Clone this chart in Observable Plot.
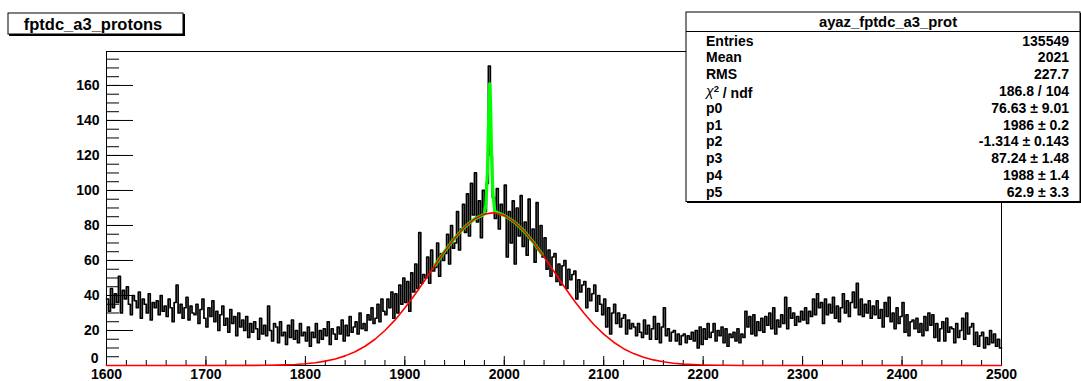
<!DOCTYPE html>
<html>
<head>
<meta charset="utf-8">
<script src="https://cdn.jsdelivr.net/npm/d3@7"></script>
<script src="https://cdn.jsdelivr.net/npm/@observablehq/plot@0.6"></script>
<style>
  html, body { margin: 0; padding: 0; background: #fff; }
  #chart { width: 1081px; height: 381px; overflow: hidden; }
</style>
</head>
<body>
<div id="chart"></div>
<script>
// ---------- data ----------
const histTitle = "fptdc_a3_protons";
const statsTitle = "ayaz_fptdc_a3_prot";
const statNames = ["Entries", "Mean", "RMS", "CHI2", "p0", "p1", "p2", "p3", "p4", "p5"];
const statValues = ["135549", "2021", "227.7", "186.8 / 104", "76.63 \u00b1 9.01", "1986 \u00b1 0.2",
  "-1.314 \u00b1 0.143", "87.24 \u00b1 1.48", "1988 \u00b1 1.4", "62.9 \u00b1 3.3"];

const binStart = 1600;
const binWidth = 2;
const counts = [
  38,31,44,33,41, 36,51,30,43,38, 45,35,29,40,37, 33,42,27,38,35, 30,41,26,36,33,
  37,29,40,31,34, 28,38,33,25,36, 46,30,35,27,33, 39,26,34,30,29, 35,24,32,38,27,
  22,33,28,37,25, 31,20,29,34,23, 27,19,32,24,28, 17,30,22,26,20, 28,16,24,19,25,
  21,15,27,18,23, 17,34,20,14,24, 22,13,25,17,19, 12,23,16,26,15, 20,13,24,17,19,
  14,22,11,19,16, 24,13,20,15,21, 17,25,12,21,18, 15,22,18,26,14, 23,17,28,19,22,
  25,18,30,21,24, 20,29,26,33,24, 27,35,25,38,31, 29,38,33,42,27, 41,30,46,35,50,
  36,48,31,53,42, 58,44,76,47,52, 50,62,47,66,54, 56,70,51,64,60, 64,75,58,80,67,
  70,88,66,78,92, 76,98,74,104,86, 110,82,94,73,100, 88,104,171,120,96, 84,101,78,92,86,
  103,62,88,70,94, 58,90,74,97,68, 82,63,95,72,78, 59,93,66,80,62, 73,55,66,51,62,
  64,48,58,46,57, 60,44,55,49,52, 54,38,49,42,46, 48,33,44,37,41, 46,31,40,35,29,
  38,22,33,18,30, 35,24,30,22,27, 29,18,26,21,24, 22,17,24,19,16, 26,18,23,15,21,
  28,15,24,13,22, 33,17,21,14,19, 20,14,18,12,17, 18,13,17,15,19, 14,20,10,22,12,
  21,15,24,16,19, 24,14,20,17,22, 13,21,11,18,16, 19,14,21,13,18, 16,31,22,28,18,
  29,17,25,20,27, 19,28,23,30,21, 33,18,26,22,29, 24,39,21,33,27, 30,23,28,25,31,
  26,33,24,31,28, 38,29,41,33,36, 24,38,29,35,30, 39,27,34,25,33, 41,30,37,28,36,
  42,33,47,29,38, 28,35,30,37,27, 34,29,37,27,32, 22,36,28,39,25, 30,21,33,24,28,
  36,19,29,17,25, 26,21,27,19,24, 17,28,20,30,23, 29,16,24,14,21, 25,14,27,19,22,
  21,13,24,16,20, 27,15,30,18,22, 24,12,19,11,17, 19,10,16,12,20, 13,18,11,15,10
];

// red fit curve (gaussian component)
const redX = [1600, 1700, 1750, 1760, 1770, 1780, 1790, 1800, 1810, 1820, 1830, 1840, 1850, 1860, 1870,
  1880, 1890, 1900, 1910, 1920, 1930, 1940, 1950, 1960, 1970, 1980, 1988, 1990, 2000, 2010, 2020,
  2030, 2040, 2050, 2060, 2070, 2080, 2090, 2100, 2110, 2120, 2130, 2140, 2150, 2160, 2170, 2180,
  2190, 2200, 2220, 2240, 2300, 2500];
const redY = [0, 0, 0.07, 0.12, 0.22, 0.37, 0.61, 1.0, 1.6, 2.5, 3.7, 5.5, 7.9, 11.0, 15.0,
  20.0, 25.9, 32.8, 40.4, 48.6, 57.0, 65.2, 72.7, 79.0, 83.7, 86.5, 87.2, 87.2, 85.7, 82.1, 76.7,
  69.8, 62.0, 53.7, 45.3, 37.3, 30.0, 23.4, 17.9, 13.3, 9.6, 6.8, 4.7, 3.2, 2.1, 1.3, 0.8,
  0.5, 0.3, 0.1, 0.03, 0, 0];

// green total fit over fit range
const greenX = [1930, 1940, 1950, 1960, 1970, 1978, 1980, 1981.5, 1983, 1984.3, 1985.3, 1986.2, 1987.2, 1988.6, 1990.5, 2000, 2010, 2020, 2030, 2038];
const greenY = [57.0, 65.2, 72.7, 79.0, 83.7, 85.8, 86.5, 92, 110, 140, 161, 150, 120, 98, 88, 85.7, 82.1, 76.7, 69.8, 63.6];

const xMajor = [1600, 1700, 1800, 1900, 2000, 2100, 2200, 2300, 2400, 2500];
const xMinor = d3.range(1600, 2501, 20);
const yMajor = [0, 20, 40, 60, 80, 100, 120, 140, 160];
const yMinor = d3.range(0, 179, 5);

// ---------- build ----------
const hist = counts.map((v, i) => ({x: binStart + i * binWidth, y: v}));
hist.push({x: binStart + counts.length * binWidth, y: counts[counts.length - 1]});
const red = redX.map((x, i) => ({x, y: redY[i]}));
const green = greenX.map((x, i) => ({x, y: greenY[i]}));

const W = 1081, H = 381, mL = 106, mR = 80, mT = 51, mB = 16;
const innerW = W - mL - mR, innerH = H - mT - mB;
const font = "'Liberation Sans', Arial, Helvetica, sans-serif";

const svg = Plot.plot({
  width: W, height: H,
  marginLeft: mL, marginRight: mR, marginTop: mT, marginBottom: mB,
  x: {domain: [1600, 2500], label: null},
  y: {domain: [0, 179.4], label: null},
  style: {fontFamily: font, fontSize: "13.5px", fontWeight: "bold", color: "black", background: "white", overflow: "visible"},
  marks: [
    Plot.ruleY(yMinor, {insetRight: innerW - 13, stroke: "black", strokeWidth: 1}),
    Plot.ruleY(yMajor, {insetRight: innerW - 27, stroke: "black", strokeWidth: 1}),
    Plot.ruleX(xMinor, {insetTop: innerH - 5, stroke: "black", strokeWidth: 1}),
    Plot.ruleX(xMajor, {insetTop: innerH - 9, stroke: "black", strokeWidth: 1}),
    Plot.line(hist, {x: "x", y: "y", curve: "step-after", stroke: "black", strokeWidth: 1.7}),
    Plot.frame({stroke: "black", strokeWidth: 1}),
    Plot.line(green, {x: "x", y: "y", stroke: "#00ff00", strokeWidth: 3.2}),
    Plot.line(red, {x: "x", y: "y", stroke: "#ff0000", strokeWidth: 1.6}),
    Plot.axisY({ticks: yMajor.filter(d => d > 0), tickSize: 0, tickPadding: 7, fontSize: 14, tickFormat: d => String(d), label: null}),
    Plot.axisY({ticks: [0], tickSize: 0, tickPadding: 8, dy: -7, fontSize: 14, tickFormat: d => String(d), label: null}),
    Plot.axisX({ticks: xMajor, tickSize: 0, tickPadding: 4, fontSize: 14, tickFormat: d => String(d), label: null})
  ]
});

const s = d3.select(svg);

// title box
const tb = s.append("g");
tb.append("rect").attr("x", 9).attr("y", 14).attr("width", 176).attr("height", 22).attr("fill", "black");
tb.append("rect").attr("x", 8).attr("y", 13).attr("width", 175).attr("height", 21).attr("fill", "white").attr("stroke", "black").attr("stroke-width", 1);
tb.append("text").attr("x", 93).attr("y", 24).attr("dy", "0.36em").attr("text-anchor", "middle")
  .attr("font-family", font).attr("font-weight", "bold").attr("font-size", "16.5px").text(histTitle);

// stats box
const sb = s.append("g").attr("font-family", font).attr("font-weight", "bold").attr("font-size", "14px");
sb.append("rect").attr("x", 687).attr("y", 13).attr("width", 394).attr("height", 190).attr("fill", "black");
sb.append("rect").attr("x", 686).attr("y", 12).attr("width", 394).attr("height", 189.5).attr("fill", "white").attr("stroke", "black").attr("stroke-width", 1);
sb.append("line").attr("x1", 686).attr("x2", 1080).attr("y1", 31.5).attr("y2", 31.5).attr("stroke", "black");
sb.append("text").attr("x", 888).attr("y", 22).attr("dy", "0.36em").attr("text-anchor", "middle").attr("font-size", "14.8px").text(statsTitle);
statNames.forEach((n, i) => {
  const y = 40.5 + i * 16.8;
  const t = sb.append("text").attr("x", 706).attr("y", y).attr("dy", "0.36em").attr("text-anchor", "start");
  if (n === "CHI2") {
    t.append("tspan").attr("font-style", "italic").attr("font-weight", "normal").text("\u03c7");
    t.append("tspan").attr("dy", "-0.45em").attr("font-size", "9.5px").text("2");
    t.append("tspan").attr("dy", "0.45em").text(" / ndf");
  } else {
    t.text(n);
  }
  sb.append("text").attr("x", 1069).attr("y", y).attr("dy", "0.36em").attr("text-anchor", "end").text(statValues[i]);
});

document.getElementById("chart").appendChild(svg);
</script>
</body>
</html>
